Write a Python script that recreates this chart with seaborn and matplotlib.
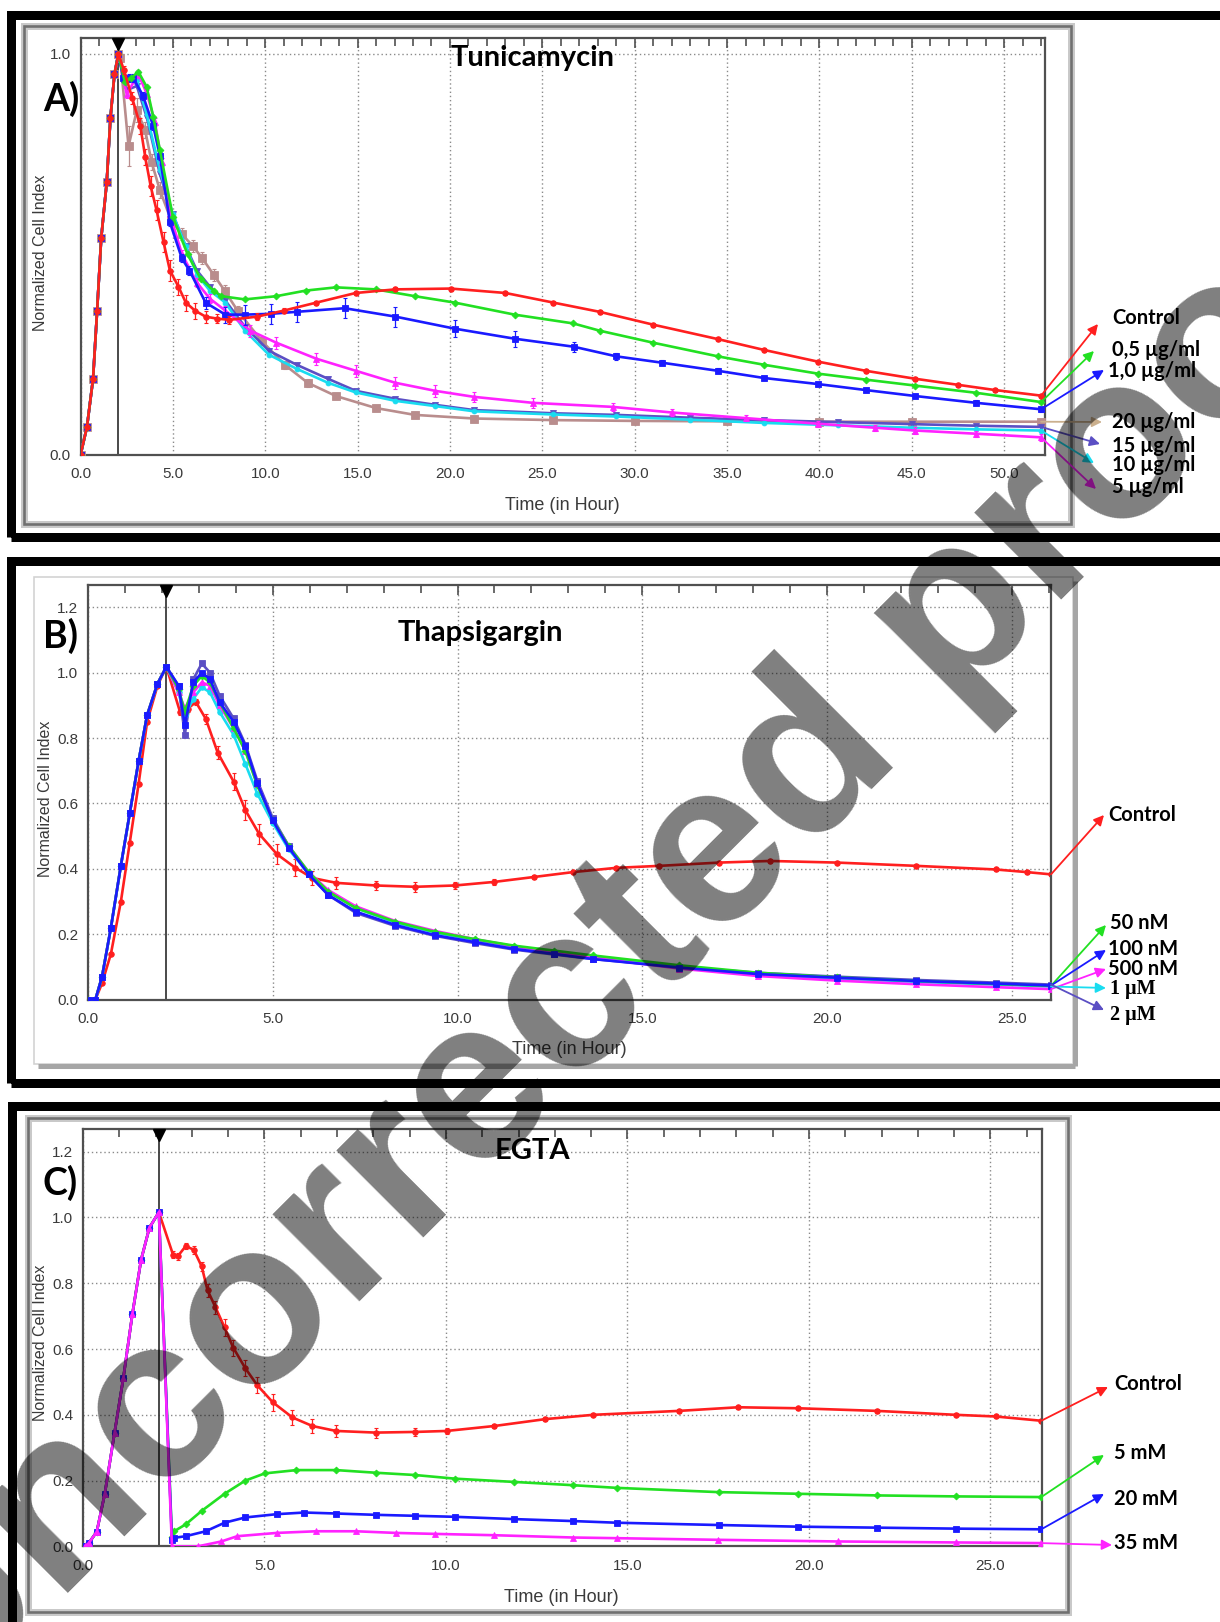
import matplotlib
matplotlib.use("Agg")
import matplotlib.pyplot as plt
from matplotlib.patches import Rectangle, ConnectionPatch
from matplotlib.lines import Line2D
from matplotlib.ticker import MultipleLocator, FixedLocator, FormatStrFormatter
import seaborn as sns

sns.set_style("white")
plt.rcParams["font.family"] = ["Liberation Sans Narrow", "Liberation Sans", "DejaVu Sans"]

# ------------------------------------------------------------------ data
# Panel A - Tunicamycin (time in h, normalized cell index)
a_rise_t = [0.0, 0.35, 0.68, 0.90, 1.12, 1.42, 1.62, 1.84, 2.05]
a_rise_v = [0.0, 0.07, 0.19, 0.36, 0.54, 0.68, 0.84, 0.95, 1.00]

a_ctrl_t = [2.35, 2.80, 3.24, 3.50, 3.80, 4.12, 4.50, 4.84, 5.30, 5.70, 6.20, 6.77, 7.40, 8.06, 9.56,
            11.0, 12.77, 14.9, 17.05, 20.05, 23.0, 25.6, 28.1, 31.0, 34.5, 37.0, 39.9, 42.5, 45.2,
            47.5, 49.5, 52.0]
a_ctrl_v = [0.96, 0.89, 0.82, 0.744, 0.67, 0.61, 0.53, 0.46, 0.42, 0.38, 0.36, 0.345, 0.34, 0.337,
            0.345, 0.36, 0.38, 0.404, 0.413, 0.415, 0.404, 0.38, 0.357, 0.325, 0.289, 0.262, 0.233,
            0.21, 0.19, 0.175, 0.162, 0.148]
a_ctrl_e = [0.01, 0.015, 0.02, 0.02, 0.025, 0.025, 0.025, 0.025, 0.02, 0.02, 0.02, 0.015, 0.012,
            0.01, 0.008, 0.006, 0.005, 0.005, 0.005, 0.005, 0.005, 0.005, 0.005, 0.005, 0.005,
            0.005, 0.005, 0.005, 0.005, 0.005, 0.005, 0.005]

a_05_t = [2.40, 2.75, 3.13, 3.58, 3.94, 4.30, 5.00, 5.80, 6.50, 7.20, 7.63, 8.90, 10.6, 12.2,
          13.83, 15.98, 18.1, 20.26, 23.5, 26.68, 28.1, 31.0, 34.5, 37.0, 39.9, 42.5, 45.2, 48.5, 52.0]
a_05_v = [0.93, 0.94, 0.956, 0.918, 0.843, 0.76, 0.594, 0.50, 0.44, 0.41, 0.396, 0.388, 0.396,
          0.41, 0.418, 0.413, 0.396, 0.38, 0.35, 0.328, 0.31, 0.28, 0.246, 0.225, 0.203, 0.188,
          0.173, 0.155, 0.132]

a_1_t = [2.32, 2.60, 2.86, 3.40, 3.94, 4.30, 4.84, 5.49, 5.90, 6.77, 7.84, 8.90, 10.3, 11.7, 14.3,
         17.05, 20.26, 23.5, 26.7, 29.0, 31.5, 34.5, 37.0, 39.9, 42.5, 45.2, 48.5, 52.0]
a_1_v = [0.94, 0.94, 0.94, 0.894, 0.82, 0.745, 0.58, 0.49, 0.46, 0.38, 0.35, 0.35, 0.352, 0.357,
         0.366, 0.345, 0.315, 0.29, 0.27, 0.246, 0.23, 0.21, 0.192, 0.177, 0.162, 0.147, 0.13, 0.114]
a_1_e = [0.01, 0.01, 0.01, 0.01, 0.01, 0.01, 0.01, 0.01, 0.012, 0.015, 0.02, 0.025, 0.025, 0.025,
         0.025, 0.025, 0.022, 0.02, 0.012, 0.008, 0.006, 0.006, 0.006, 0.006, 0.006, 0.006, 0.006,
         0.006]

a_5_t = [2.50, 3.13, 3.60, 4.03, 4.40, 4.84, 5.50, 6.30, 7.00, 7.84, 9.20, 10.6, 12.77, 14.9,
         17.05, 19.2, 21.3, 24.5, 28.8, 32.0, 36.0, 39.9, 43.0, 45.2, 48.5, 52.0]
a_5_v = [0.90, 0.95, 0.90, 0.83, 0.73, 0.60, 0.50, 0.43, 0.39, 0.36, 0.31, 0.28, 0.24, 0.21, 0.18,
         0.16, 0.145, 0.13, 0.12, 0.106, 0.092, 0.078, 0.068, 0.061, 0.053, 0.044]
a_5_e = [0.01, 0.01, 0.01, 0.01, 0.01, 0.01, 0.01, 0.012, 0.012, 0.012, 0.015, 0.015, 0.015,
         0.015, 0.015, 0.015, 0.012, 0.012, 0.01, 0.008, 0.008, 0.008, 0.008, 0.008, 0.008, 0.008]

a_10_t = [2.40, 3.05, 3.58, 4.30, 5.00, 5.70, 6.30, 7.00, 7.84, 8.90, 10.2, 11.7, 13.4, 14.9,
          17.05, 19.2, 21.3, 25.6, 29.0, 33.0, 37.0, 41.0, 45.0, 48.5, 52.0]
a_10_v = [0.93, 0.935, 0.85, 0.71, 0.60, 0.52, 0.45, 0.41, 0.38, 0.31, 0.25, 0.215, 0.18, 0.156,
          0.135, 0.122, 0.109, 0.101, 0.096, 0.088, 0.08, 0.074, 0.068, 0.064, 0.061]

a_15_t = [2.50, 3.05, 3.60, 4.30, 5.00, 5.70, 6.30, 7.00, 7.84, 8.90, 10.2, 11.7, 13.4, 14.9,
          17.05, 19.2, 21.3, 25.6, 29.0, 33.0, 37.0, 41.0, 45.0, 48.5, 52.0]
a_15_v = [0.91, 0.92, 0.84, 0.70, 0.60, 0.52, 0.46, 0.42, 0.385, 0.32, 0.26, 0.225, 0.19, 0.16,
          0.14, 0.125, 0.112, 0.104, 0.10, 0.093, 0.087, 0.082, 0.077, 0.073, 0.07]

a_20_t = [2.15, 2.60, 3.05, 3.50, 3.85, 4.30, 4.90, 5.50, 6.10, 6.60, 7.20, 7.80, 8.50, 9.80,
          11.05, 12.3, 13.83, 16.0, 18.1, 21.3, 25.6, 30.0, 35.0, 40.0, 45.0, 52.0]
a_20_v = [0.99, 0.77, 0.86, 0.81, 0.73, 0.66, 0.586, 0.55, 0.52, 0.49, 0.45, 0.41, 0.36, 0.285,
          0.225, 0.18, 0.147, 0.117, 0.10, 0.091, 0.087, 0.085, 0.084, 0.083, 0.083, 0.083]
a_20_e = [0.01, 0.05, 0.03, 0.02, 0.02, 0.02, 0.015, 0.015, 0.015, 0.015, 0.015, 0.015, 0.012,
          0.01, 0.01, 0.01, 0.008, 0.008, 0.006, 0.006, 0.006, 0.006, 0.006, 0.006, 0.006, 0.006]

a_labels = ["Control", "0,5 µg/ml", "1,0 µg/ml", "20 µg/ml", "15 µg/ml", "10 µg/ml", "5 µg/ml"]

# Panel B - Thapsigargin
b_rise_t = [0.0, 0.20, 0.38, 0.62, 0.89, 1.13, 1.37, 1.60, 1.88, 2.12]
b_rise_v = [0.0, 0.0, 0.07, 0.22, 0.41, 0.57, 0.73, 0.87, 0.966, 1.018]
b_ctrl_rise_v = [0.0, 0.0, 0.05, 0.14, 0.30, 0.48, 0.66, 0.85, 0.96, 1.018]

b_ctrl_t = [2.49, 2.70, 2.92, 3.19, 3.51, 3.94, 4.26, 4.63, 5.11, 5.60, 6.07, 6.72, 7.79, 8.86,
            9.93, 11.0, 12.07, 13.13, 14.3, 15.46, 17.07, 18.46, 20.28, 22.42, 24.56, 25.4, 26.06]
b_ctrl_v = [0.88, 0.89, 0.91, 0.858, 0.755, 0.667, 0.579, 0.507, 0.445, 0.404, 0.372, 0.357,
            0.349, 0.345, 0.349, 0.36, 0.375, 0.39, 0.403, 0.409, 0.419, 0.424, 0.419, 0.409,
            0.398, 0.39, 0.383]
b_ctrl_e = [0.01, 0.01, 0.01, 0.015, 0.02, 0.025, 0.03, 0.03, 0.03, 0.025, 0.02, 0.018, 0.015,
            0.015, 0.012, 0.008, 0.006, 0.005, 0.005, 0.005, 0.005, 0.005, 0.005, 0.005, 0.005,
            0.005, 0.005]

b_post_t = [2.45, 2.62, 2.85, 3.08, 3.30, 3.56, 3.94, 4.26, 4.58, 5.00, 5.43, 5.97, 6.50, 7.25,
            8.32, 9.39, 10.46, 11.53, 12.60, 13.67, 16.0, 18.14, 20.28, 22.42, 24.56, 26.06]
b_50_v = [0.95, 0.88, 0.96, 0.99, 0.97, 0.91, 0.83, 0.76, 0.655, 0.55, 0.47, 0.39, 0.33, 0.28,
          0.238, 0.207, 0.185, 0.165, 0.15, 0.135, 0.105, 0.082, 0.068, 0.057, 0.048, 0.042]
b_100_v = [0.96, 0.84, 0.97, 1.00, 0.98, 0.91, 0.85, 0.776, 0.662, 0.548, 0.465, 0.383, 0.32,
           0.269, 0.228, 0.197, 0.176, 0.155, 0.14, 0.124, 0.098, 0.078, 0.067, 0.057, 0.049, 0.043]
b_500_v = [0.94, 0.89, 0.94, 0.97, 0.96, 0.90, 0.83, 0.76, 0.66, 0.55, 0.47, 0.39, 0.335, 0.285,
           0.24, 0.21, 0.185, 0.163, 0.145, 0.128, 0.095, 0.072, 0.058, 0.047, 0.038, 0.032]
b_1u_v = [0.94, 0.87, 0.92, 0.955, 0.94, 0.88, 0.81, 0.72, 0.63, 0.54, 0.46, 0.385, 0.33, 0.28,
          0.235, 0.205, 0.182, 0.162, 0.146, 0.13, 0.10, 0.078, 0.064, 0.054, 0.046, 0.04]
b_2u_v = [0.96, 0.81, 0.98, 1.028, 1.00, 0.93, 0.86, 0.78, 0.67, 0.555, 0.47, 0.385, 0.32, 0.265,
          0.225, 0.195, 0.173, 0.153, 0.138, 0.124, 0.10, 0.082, 0.07, 0.06, 0.052, 0.046]

b_labels = ["Control", "50 nM", "100 nM", "500 nM", "1 µM", "2 µM"]

# Panel C - EGTA
c_rise_t = [0.05, 0.16, 0.38, 0.60, 0.87, 1.11, 1.36, 1.60, 1.83, 2.09]
c_rise_v = [0.0, 0.01, 0.045, 0.16, 0.346, 0.511, 0.706, 0.871, 0.969, 1.016]

c_ctrl_t = [2.48, 2.61, 2.83, 3.05, 3.27, 3.43, 3.65, 3.90, 4.14, 4.47, 4.80, 5.23, 5.77, 6.32,
            6.97, 8.06, 9.15, 10.02, 11.33, 12.74, 14.05, 16.42, 18.05, 19.69, 21.87, 24.05,
            25.14, 26.4]
c_ctrl_v = [0.887, 0.882, 0.913, 0.902, 0.851, 0.779, 0.727, 0.666, 0.604, 0.542, 0.49, 0.438,
            0.392, 0.366, 0.351, 0.346, 0.348, 0.351, 0.366, 0.387, 0.40, 0.412, 0.423, 0.42,
            0.412, 0.40, 0.395, 0.382]
c_ctrl_e = [0.01, 0.01, 0.01, 0.012, 0.015, 0.02, 0.02, 0.025, 0.025, 0.025, 0.025, 0.025, 0.022,
            0.02, 0.018, 0.015, 0.012, 0.01, 0.006, 0.005, 0.005, 0.005, 0.005, 0.005, 0.005,
            0.005, 0.005, 0.005]

c_5_t = [2.45, 2.51, 2.83, 3.27, 3.90, 4.47, 5.01, 5.88, 6.97, 8.06, 9.15, 10.24, 11.88, 13.51,
         14.7, 17.51, 19.69, 21.87, 24.05, 26.4]
c_5_v = [0.03, 0.046, 0.067, 0.108, 0.16, 0.20, 0.222, 0.232, 0.232, 0.224, 0.217, 0.206, 0.196,
         0.186, 0.178, 0.165, 0.16, 0.155, 0.152, 0.15]
c_20_t = [2.45, 2.51, 2.83, 3.38, 3.90, 4.47, 5.34, 6.10, 6.97, 8.06, 9.15, 10.24, 11.88, 13.51,
          14.7, 17.51, 19.69, 21.87, 24.05, 26.4]
c_20_v = [0.02, 0.026, 0.031, 0.046, 0.072, 0.088, 0.098, 0.103, 0.10, 0.096, 0.093, 0.09, 0.083,
          0.077, 0.072, 0.065, 0.06, 0.057, 0.054, 0.052]
c_35_t = [2.45, 3.16, 3.81, 4.25, 5.34, 6.43, 7.52, 8.61, 9.70, 11.33, 13.51, 14.7, 17.5, 20.8,
          24.05, 26.4]
c_35_v = [0.0, 0.0, 0.015, 0.031, 0.041, 0.046, 0.046, 0.041, 0.038, 0.034, 0.027, 0.025, 0.02,
          0.015, 0.012, 0.01]

c_labels = ["Control", "5 mM", "20 mM", "35 mM"]

treat_t = [2.05, 2.12, 2.09]

# ------------------------------------------------------------------ style
RED, GREEN, BLUE = "#ff1f1f", "#22e022", "#1a1aff"
MAGENTA, CYAN, SLATE = "#ff22ff", "#19dcf0", "#5b4fc4"
ROSY, TAN = "#b98d8d", "#cbb08e"
TICKFONT = ["Liberation Sans Narrow", "Liberation Sans"]
BOLDFONT = ["Lato", "DejaVu Sans"]

W, H = 1220, 1622
fig = plt.figure(figsize=(W / 100, H / 100), dpi=100)
fig.patch.set_facecolor("white")


def F(x, y):
    return (x / W, 1 - y / H)


def add_ax(l, t, r, b):
    return fig.add_axes([l / W, 1 - b / H, (r - l) / W, (b - t) / H])


def frame(l, t, r, b, color, lw, z=1):
    fig.add_artist(Rectangle(F(l, b), (r - l) / W, (b - t) / H, transform=fig.transFigure,
                             fill=False, ec=color, lw=lw * 0.72, zorder=z, clip_on=False))


def shadow(l, t, r, b, color, lw):
    fig.add_artist(Line2D([r / W, r / W], [1 - (t + 4) / H, 1 - b / H], color=color,
                          lw=lw * 0.72, transform=fig.transFigure, solid_capstyle="butt"))
    fig.add_artist(Line2D([(l + 4) / W, r / W], [1 - b / H, 1 - b / H], color=color,
                          lw=lw * 0.72, transform=fig.transFigure, solid_capstyle="butt"))


def style(ax, xmax, ymax, ymaj, ymin, tt):
    ax.set_xlim(0, xmax)
    ax.set_ylim(0, ymax)
    ax.set_facecolor("white")
    ax.xaxis.set_major_locator(MultipleLocator(5))
    ax.xaxis.set_minor_locator(MultipleLocator(1))
    ax.xaxis.set_major_formatter(FormatStrFormatter("%.1f"))
    ax.yaxis.set_major_locator(ymaj)
    ax.yaxis.set_minor_locator(ymin)
    ax.yaxis.set_major_formatter(FormatStrFormatter("%.1f"))
    ax.grid(True, which="major", ls=(0, (1, 2)), color="#8a8a8a", lw=1.0)
    for s in ax.spines.values():
        s.set_color("#505050")
        s.set_linewidth(1.6)
    ax.tick_params(axis="both", which="both", direction="in", top=True, right=False,
                   colors="#505050", labelcolor="#3a3a3a", labelsize=11)
    ax.tick_params(axis="x", which="major", length=7, width=1.2, pad=9)
    ax.tick_params(axis="x", which="minor", length=6, width=1.2)
    ax.tick_params(axis="y", which="major", length=11, width=1.4, pad=7)
    ax.tick_params(axis="y", which="minor", length=5, width=1.0)
    for lab in ax.get_xticklabels() + ax.get_yticklabels():
        lab.set_family(TICKFONT)
    ax.axvline(tt, color="#3a3a3a", lw=1.3, zorder=1)
    ax.plot([tt], [0.985], marker="v", color="black", ms=8,
            transform=ax.get_xaxis_transform(), clip_on=False, zorder=12)
    ax.set_xlabel("")
    ax.set_ylabel("")


def series(ax, t, v, color, marker, ms, err_t=None, err=None, z=3, lw=1.9):
    sns.lineplot(x=t, y=v, ax=ax, color=color, marker=marker, markersize=ms,
                 markeredgecolor=color, markeredgewidth=0.6, linewidth=lw, sort=False,
                 estimator=None, legend=False, zorder=z)
    if err is not None:
        ax.errorbar(err_t, v[-len(err):], yerr=err, fmt="none", ecolor=color,
                    elinewidth=0.9, capsize=1.5, capthick=0.8, zorder=z)


def arrows(ax, ends, tips, texts, labels, colors, fonts=None):
    for i, ((te, ve), tip, tp, lab, col) in enumerate(zip(ends, tips, texts, labels, colors)):
        cp = ConnectionPatch(xyA=(te, ve), coordsA=ax.transData, xyB=F(*tip),
                             coordsB=fig.transFigure, arrowstyle="-|>", color=col, lw=1.3,
                             mutation_scale=15, shrinkA=0, shrinkB=0, zorder=8)
        fig.add_artist(cp)
        fam = BOLDFONT if fonts is None else fonts[i]
        fig.text(*F(*tp), lab, ha="left", va="center", fontsize=14.5, fontweight="bold",
                 family=fam, color="black", zorder=9)


# ------------------------------------------------------------------ frames
frame(11, 15, 1245, 537, "black", 9)
frame(11, 561, 1245, 1083, "black", 9)
frame(12, 1106, 1245, 1660, "black", 9)

frame(24, 26, 1071, 524, "#c9c9c9", 7)
frame(24, 26, 1071, 524, "#707070", 2.6)
shadow(34, 577, 1075, 1066, "#a6a6a6", 5)
frame(34, 577, 1073, 1064, "#d2d2d2", 1.6)
frame(28, 1118, 1068, 1612, "#c9c9c9", 7)
frame(28, 1118, 1068, 1612, "#707070", 2.6)

# ------------------------------------------------------------------ panel A
axA = add_ax(80.5, 37.5, 1044.8, 455)
style(axA, 52.2, 1.041, FixedLocator([0.0, 1.0]), MultipleLocator(0.1), treat_t[0])
a_series = [
    (a_20_t, a_20_v, ROSY, "s", 5.5, a_20_e),
    (a_15_t, a_15_v, SLATE, "v", 4.5, None),
    (a_10_t, a_10_v, CYAN, "o", 3.5, None),
    (a_5_t, a_5_v, MAGENTA, "^", 4.5, a_5_e),
    (a_1_t, a_1_v, BLUE, "s", 5.0, a_1_e),
    (a_05_t, a_05_v, GREEN, "D", 3.5, None),
    (a_ctrl_t, a_ctrl_v, RED, "o", 4.0, a_ctrl_e),
]
for k, (t, v, c, m, ms, e) in enumerate(a_series):
    series(axA, a_rise_t + t, a_rise_v + v, c, m, ms, err_t=t if e else None, err=e, z=3 + k)

a_order = [a_series[6], a_series[5], a_series[4], a_series[0], a_series[1], a_series[2], a_series[3]]
a_colors = [RED, GREEN, BLUE, TAN, SLATE, CYAN, MAGENTA]
arrows(axA, [(s[0][-1], s[1][-1]) for s in a_order],
       [(1098, 324), (1094, 351), (1104, 370), (1102, 422), (1100, 444), (1094, 463), (1096, 489)],
       [(1112, 318), (1112, 350), (1108, 371), (1112, 422), (1112, 446), (1112, 465), (1112, 487)],
       a_labels, a_colors)

# ------------------------------------------------------------------ panel B
axB = add_ax(88, 585, 1051, 999.6)
style(axB, 26.06, 1.268, MultipleLocator(0.2), MultipleLocator(0.05), treat_t[1])
series(axB, b_rise_t + b_ctrl_t, b_ctrl_rise_v + b_ctrl_v, RED, "o", 4.0,
       err_t=b_ctrl_t, err=b_ctrl_e, z=2)
b_series = [
    (b_rise_v, b_post_t, b_2u_v, SLATE, "s", 5.0),
    (b_rise_v, b_post_t, b_1u_v, CYAN, "o", 4.0),
    (b_rise_v, b_post_t, b_500_v, MAGENTA, "^", 4.5),
    (b_rise_v, b_post_t, b_50_v, GREEN, "D", 3.5),
    (b_rise_v, b_post_t, b_100_v, BLUE, "s", 4.5),
]
for k, (rv, t, v, c, m, ms) in enumerate(b_series):
    series(axB, b_rise_t + t, rv + v, c, m, ms, z=3 + k)

b_ends = [(b_ctrl_t[-1], b_ctrl_v[-1]), (b_post_t[-1], b_50_v[-1]), (b_post_t[-1], b_100_v[-1]),
          (b_post_t[-1], b_500_v[-1]), (b_post_t[-1], b_1u_v[-1]), (b_post_t[-1], b_2u_v[-1])]
arrows(axB, b_ends,
       [(1104, 815), (1106, 925), (1106, 950), (1106, 969), (1106, 988), (1104, 1010)],
       [(1108, 815), (1110, 923), (1108, 949), (1108, 969), (1110, 989), (1110, 1015)],
       b_labels, [RED, GREEN, BLUE, MAGENTA, CYAN, SLATE],
       fonts=[BOLDFONT, BOLDFONT, BOLDFONT, BOLDFONT, ["Liberation Serif"], ["Liberation Serif"]])

# ------------------------------------------------------------------ panel C
axC = add_ax(83, 1129, 1042, 1546.4)
style(axC, 26.42, 1.269, MultipleLocator(0.2), MultipleLocator(0.05), treat_t[2])
series(axC, c_rise_t + c_ctrl_t, c_rise_v + c_ctrl_v, RED, "o", 4.0,
       err_t=c_ctrl_t, err=c_ctrl_e, z=2)
series(axC, c_rise_t + c_5_t, c_rise_v + c_5_v, GREEN, "D", 3.5, z=3)
series(axC, c_rise_t + c_20_t, c_rise_v + c_20_v, BLUE, "s", 5.0, z=4)
series(axC, c_rise_t + c_35_t, c_rise_v + c_35_v, MAGENTA, "^", 4.5, z=5)
arrows(axC, [(c_ctrl_t[-1], c_ctrl_v[-1]), (c_5_t[-1], c_5_v[-1]), (c_20_t[-1], c_20_v[-1]),
             (c_35_t[-1], c_35_v[-1])],
       [(1108, 1387), (1104, 1455), (1104, 1494), (1112, 1545)],
       [(1114, 1384), (1114, 1453), (1114, 1499), (1114, 1543)],
       c_labels, [RED, GREEN, BLUE, MAGENTA])

# ------------------------------------------------------------------ texts
for (px, py), s in [((533, 58), "Tunicamycin"), ((480, 633), "Thapsigargin"), ((532, 1151), "EGTA")]:
    fig.text(*F(px, py), s, ha="center", va="center", fontsize=21, fontweight="bold",
             family=BOLDFONT, color="black")
for (px, py), s in [((43, 99), "A)"), ((43, 636), "B)"), ((43, 1183), "C)")]:
    fig.text(*F(px, py), s, ha="left", va="center", fontsize=27, fontweight="bold",
             family=BOLDFONT, color="black")
for (px, py) in [(41, 253), (46, 799), (41, 1343)]:
    fig.text(*F(px, py), "Normalized Cell Index", rotation=90, ha="center", va="center",
             fontsize=11.5, family=["Liberation Sans"], color="#3a3a3a")
for (px, py) in [(562, 505), (569, 1049), (561, 1597)]:
    fig.text(*F(px, py), "Time (in Hour)", ha="center", va="center", fontsize=13,
             family=TICKFONT, color="#3a3a3a")

# watermark
fig.text(*F(612, 964), "Uncorrected proof", rotation=45, rotation_mode="anchor",
         ha="center", va="center", fontsize=167, fontweight="bold", family=["Liberation Sans"],
         color="black", alpha=0.5, zorder=50)

fig.savefig("out.png", dpi=100)
